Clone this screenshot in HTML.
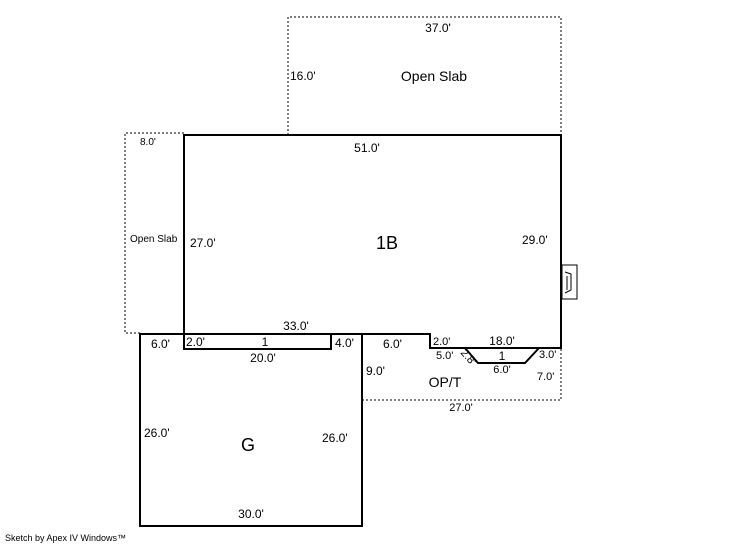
<!DOCTYPE html>
<html><head><style>
html,body{margin:0;padding:0;background:#fff;}
svg{display:block;}
text{font-family:"Liberation Sans",Arial,sans-serif;fill:#000;}
</style></head><body>
<svg width="746" height="547" viewBox="0 0 746 547" xmlns="http://www.w3.org/2000/svg">
<g fill="none" stroke="#000" stroke-width="1" stroke-dasharray="2,2">
<polyline points="288,135 288,17 561,17 561,135"/>
<polyline points="184,133 125,133 125,333 140,333"/>
<polyline points="362,400 561,400 561,348"/>
</g>
<g fill="none" stroke="#000" stroke-width="2">
<polygon points="184,135 561,135 561,348 430,348 430,334 184,334"/>
<rect x="140" y="334" width="222" height="192"/>
<rect x="184" y="334" width="147" height="15"/>
<polyline points="465,348 478,363 525,363 539,348"/>
</g>
<g fill="none" stroke="#000" stroke-width="1">
<rect x="562" y="265" width="15" height="34"/>
<polyline points="565,272 571,274 571,290 565,293"/>
<line x1="567" y1="276" x2="567" y2="290"/>
</g>
<g font-size="12">
<text x="438" y="32" text-anchor="middle">37.0'</text>
<text x="290" y="80">16.0'</text>
<text x="434" y="81" text-anchor="middle" font-size="14">Open Slab</text>
<text x="140" y="145" font-size="10">8.0'</text>
<text x="367" y="152" text-anchor="middle">51.0'</text>
<text x="130" y="242" font-size="10">Open Slab</text>
<text x="190" y="247">27.0'</text>
<text x="387" y="249" text-anchor="middle" font-size="18">1B</text>
<text x="522" y="244">29.0'</text>
<text x="296" y="330" text-anchor="middle">33.0'</text>
<text x="151" y="348">6.0'</text>
<text x="186" y="346">2.0'</text>
<text x="265" y="346" text-anchor="middle">1</text>
<text x="335" y="347">4.0'</text>
<text x="263" y="362" text-anchor="middle">20.0'</text>
<text x="383" y="348">6.0'</text>
<text x="433" y="345" font-size="11">2.0'</text>
<text x="502" y="345" text-anchor="middle">18.0'</text>
<text x="436" y="359" font-size="11">5.0'</text>
<text x="502" y="360" text-anchor="middle">1</text>
<text x="539" y="358" font-size="11">3.0'</text>
<text transform="translate(460,353) rotate(48)" x="0" y="0" font-size="11">2.8'</text>
<text x="502" y="373" text-anchor="middle" font-size="11">6.0'</text>
<text x="366" y="375">9.0'</text>
<text x="537" y="380" font-size="11">7.0'</text>
<text x="445" y="387" text-anchor="middle" font-size="14">OP/T</text>
<text x="461" y="411" text-anchor="middle" font-size="11">27.0'</text>
<text x="144" y="437">26.0'</text>
<text x="322" y="442">26.0'</text>
<text x="248" y="451" text-anchor="middle" font-size="18">G</text>
<text x="251" y="518" text-anchor="middle">30.0'</text>
<text x="5" y="541" font-size="9">Sketch by Apex IV Windows™</text>
</g>
</svg>
</body></html>
